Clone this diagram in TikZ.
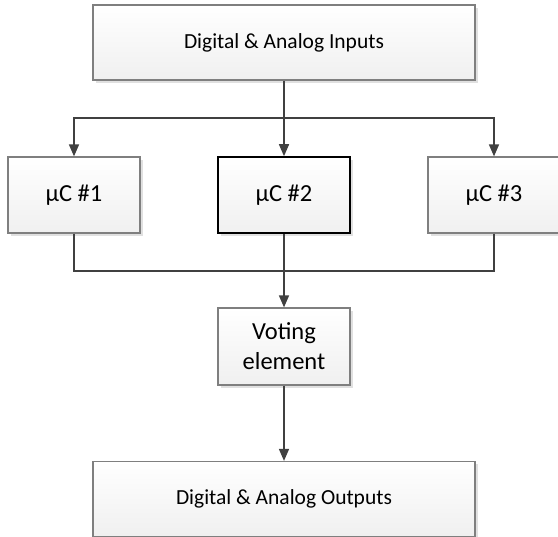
\documentclass[tikz,border=0pt]{standalone}
\usepackage{fontspec}
\setmainfont{Carlito}
\usetikzlibrary{arrows.meta,shadows}

\definecolor{boxline}{HTML}{7F7F7F}
\definecolor{wirecol}{HTML}{404040}

\tikzset{
  blk/.style={draw=boxline, line width=1.2pt, top color=white, bottom color=gray!12,
    drop shadow={shadow xshift=3pt, shadow yshift=-3pt, fill=black, opacity=0.12},
    align=center, inner sep=0pt, font=\fontsize{24.5}{30}\selectfont},
  wide/.style={blk, minimum width=382pt, minimum height=75pt, font=\fontsize{21.5}{26}\selectfont},
  mcu/.style={blk, minimum width=132pt, minimum height=76pt},
  wire/.style={draw=wirecol, line width=1.5pt},
  feed/.style={wire, -{Triangle[width=10pt,length=12pt]}}
}

\begin{document}
\begin{tikzpicture}[x=1pt,y=-1pt]

\useasboundingbox (0,0) rectangle (558,537);
\clip (0,0) rectangle (558,537);

% boxes
\node[wide] (in) at (284,42.5) {Digital \& Analog Inputs};

\node[mcu] (mc1) at (74,195) {µC \#1};
\node[mcu, draw=black, line width=1.6pt] (mc2) at (284,195) {µC \#2};
\node[mcu] (mc3) at (494,195) {µC \#3};

\node[mcu, minimum height=77pt] (vote) at (284,346.5) {Voting\\element};

\node[wide] (out) at (284,499) {Digital \& Analog Outputs};

% branch and merge points
\coordinate (split) at (284,118);
\coordinate (join) at (284,271);

% connectors
\draw[feed] (in) -- (mc2);
\draw[feed] (split) -| (mc1);
\draw[feed] (split) -| (mc3);

\draw[wire] (mc1) |- (join);
\draw[wire] (mc3) |- (join);

\draw[feed] (mc2) -- (vote);
\draw[feed] (vote) -- (out);

\end{tikzpicture}
\end{document}
